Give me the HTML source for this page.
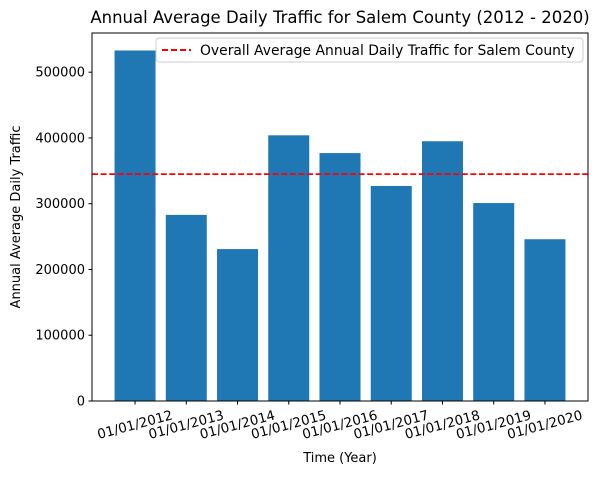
<!DOCTYPE html>
<html><head><meta charset="utf-8"><style>
body{margin:0;background:#fff}
svg{font-family:"DejaVu Sans","Liberation Sans",sans-serif}
</style></head><body>
<svg id="chart" width="601" height="475" viewBox="0 0 601 475">
<text x="340" y="23" text-anchor="middle" font-size="16.5" fill="#000">Annual Average Daily Traffic for Salem County (2012 - 2020)</text>
<g id="bars"></g>
<g id="yaxis"></g>
<g id="xaxis"></g>
<rect x="92" y="33" width="496" height="368" fill="none" stroke="#000" stroke-width="1"/>
<text x="340" y="462" text-anchor="middle" font-size="13">Time (Year)</text>
<text transform="translate(20,217) rotate(-90)" text-anchor="middle" font-size="13">Annual Average Daily Traffic</text>
<g>
<rect x="156" y="38" width="427" height="24" rx="3" fill="#fff" fill-opacity="0.8" stroke="#ccc"/>
<line x1="162" y1="50" x2="191" y2="50" stroke="red" stroke-width="2" stroke-dasharray="6,3"/>
<text x="200" y="55" font-size="13.9">Overall Average Annual Daily Traffic for Salem County</text>
</g>
</svg>
<script>
const categories=["01/01/2012","01/01/2013","01/01/2014","01/01/2015","01/01/2016","01/01/2017","01/01/2018","01/01/2019","01/01/2020"];
const values=[533000,283000,231000,404000,377000,327000,395000,301000,246000];
const overallAverage=345000;
const yTicks=[0,100000,200000,300000,400000,500000];
const NS="http://www.w3.org/2000/svg";
const L=92,R=588,T=33,B=401;
const xmin=-0.84,xmax=categories.length-1+0.84,ymax=559600;
const xs=i=>L+(i-xmin)/(xmax-xmin)*(R-L);
const ys=v=>B-v/ymax*(B-T);
const bw=0.8*(R-L)/(xmax-xmin);
function mk(t,a){const e=document.createElementNS(NS,t);for(const k in a)e.setAttribute(k,a[k]);return e;}
const gb=document.getElementById('bars'),gx=document.getElementById('xaxis'),gy=document.getElementById('yaxis');
values.forEach((v,i)=>{
 const r=mk('rect',{x:xs(i)-bw/2,y:ys(v),width:bw,height:B-ys(v),fill:'#1f77b4'});
 
 
 gb.appendChild(r);
});
const avg=mk('line',{x1:L,x2:R,y1:ys(overallAverage),y2:ys(overallAverage),stroke:'red','stroke-width':1.8,'stroke-dasharray':'6,2.6'});


gb.appendChild(avg);
yTicks.forEach(t=>{
 const y=ys(t);
 const l=mk('line',{x1:L-3.5,x2:L,y1:y,y2:y,stroke:'#000'});
 
 
 gy.appendChild(l);
 const tx=mk('text',{x:L-7,y:y+4.5,'text-anchor':'end','font-size':13});
 tx.textContent=String(t);
 
 
 gy.appendChild(tx);
});
categories.forEach((c,i)=>{
 const x=xs(i);
 const l=mk('line',{x1:x,x2:x,y1:B,y2:B+3.5,stroke:'#000'});
 
 
 gx.appendChild(l);
 const tx=mk('text',{'text-anchor':'middle','font-size':13.4,transform:`translate(${x+1},${B+28}) rotate(-15)`});
 tx.textContent=c;
 
 
 gx.appendChild(tx);
});
</script>
</body></html>
